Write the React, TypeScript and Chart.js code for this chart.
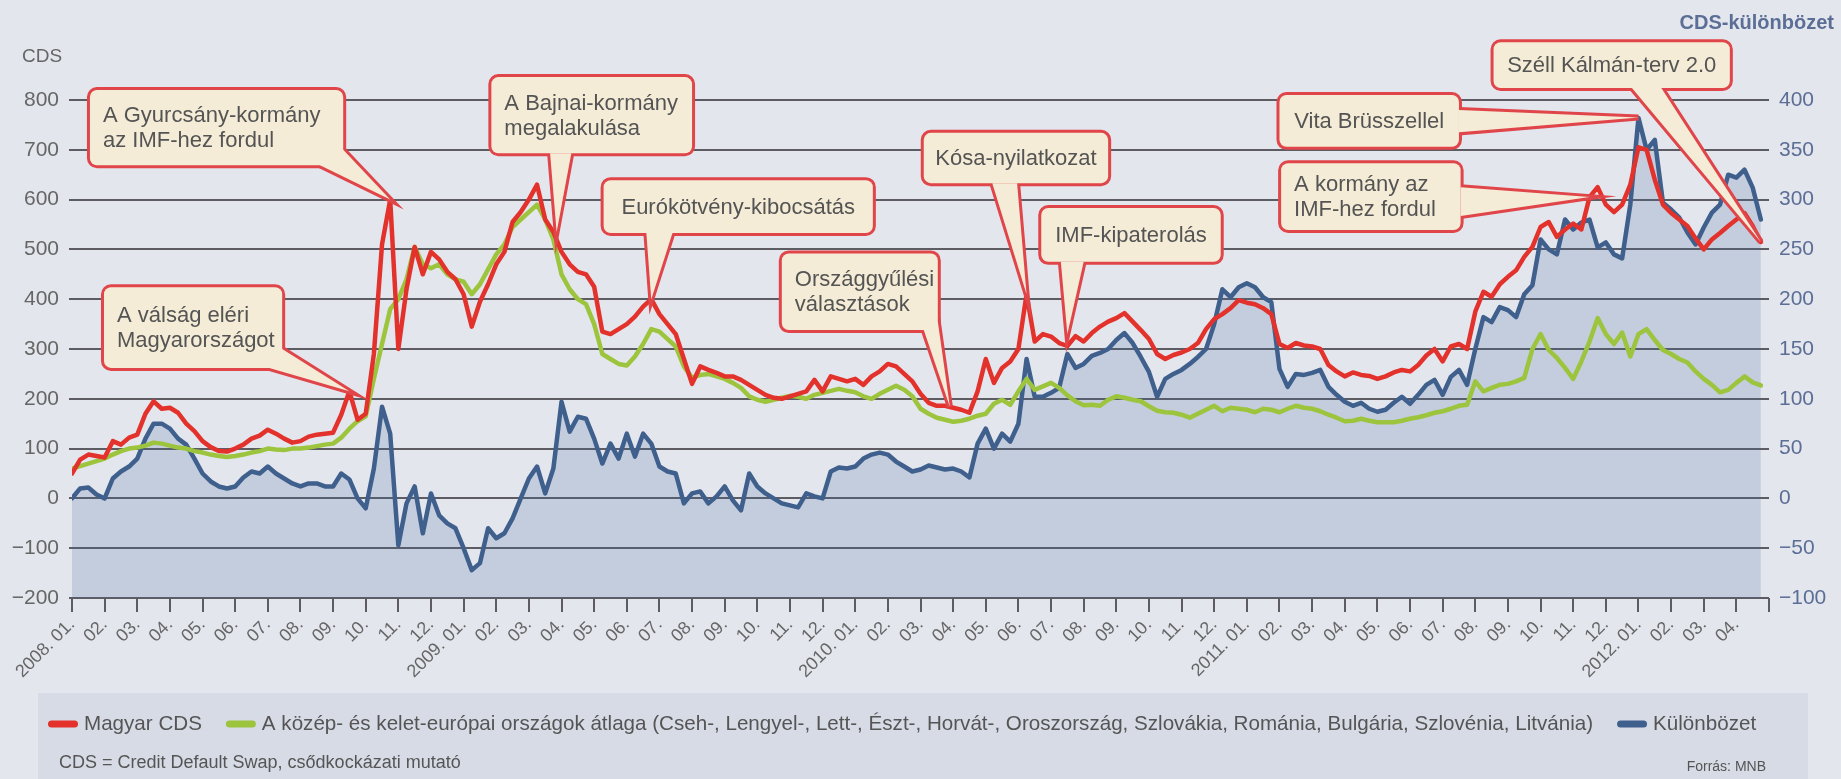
import React, { useEffect, useRef } from "react";
import { Chart, registerables } from "chart.js";

Chart.register(...registerables);

// 4 samples per month (roughly weekly), starting 2008. 01. 01.
const SAMPLES_PER_MONTH = 4;

const monthTickLabels = [
  "2008. 01.", "02.", "03.", "04.", "05.", "06.", "07.", "08.", "09.", "10.", "11.", "12.",
  "2009. 01.", "02.", "03.", "04.", "05.", "06.", "07.", "08.", "09.", "10.", "11.", "12.",
  "2010. 01.", "02.", "03.", "04.", "05.", "06.", "07.", "08.", "09.", "10.", "11.", "12.",
  "2011. 01.", "02.", "03.", "04.", "05.", "06.", "07.", "08.", "09.", "10.", "11.", "12.",
  "2012. 01.", "02.", "03.", "04.", "",
];

// Magyar CDS (bázispont, bal tengely)
const magyarCDS = [
  50, 78, 88, 85, 82, 115, 108, 122, 128, 170, 195, 180, 182, 172, 150, 135,
  115, 103, 95, 94, 100, 108, 120, 126, 138, 130, 120, 112, 115, 124, 128, 130,
  132, 168, 215, 158, 170, 290, 510, 600, 300, 420, 505, 450, 495, 480, 455, 440,
  410, 345, 395, 430, 470, 495, 555, 575, 600, 630, 560, 535, 495, 470, 455, 450,
  425, 335, 330, 340, 350, 365, 385, 400, 370, 350, 330, 280, 230, 265, 258, 252,
  245, 245, 238, 228, 218, 208, 202, 200, 205, 210, 215, 238, 215, 245, 240, 235,
  240, 228, 245, 255, 270, 265, 250, 235, 210, 192, 186, 186, 182, 178, 172, 215,
  280, 232, 262, 275, 300, 410, 315, 330, 325, 312, 306, 326, 315, 332, 345, 355,
  362, 372, 355, 338, 320, 290, 280, 288, 293, 300, 312, 340, 360, 370, 382, 398,
  393, 390, 382, 370, 310, 302, 312, 307, 305, 300, 268, 255, 245, 253, 248, 246,
  240, 245, 253, 258, 255, 268, 287, 300, 275, 305, 310, 300, 375, 415, 405, 430,
  445, 458, 485, 505, 545, 555, 525, 540, 552, 540, 605, 625, 590, 575, 590, 630,
  705, 700, 640, 590, 573, 560, 547, 522, 500, 520, 533, 547, 560, 573, 547, 515,
];

// A közép- és kelet-európai országok átlaga (bal tengely)
const kkeAtlag = [
  60, 65, 70, 75, 80, 88, 95, 100, 102, 106, 112, 110, 106, 102, 100, 95,
  92, 88, 85, 83, 85, 88, 92, 95, 100, 98, 97, 100, 100, 102, 105, 108,
  110, 122, 140, 155, 165, 240, 310, 380, 400, 440, 505, 470, 462, 470, 450, 440,
  435, 410, 430, 460, 490, 510, 545, 560, 575, 590, 560, 520, 450, 420, 400, 390,
  350, 290, 280, 270, 267, 285, 310, 340, 335, 320, 305, 265, 242, 248, 250, 245,
  240, 232, 222, 205, 198, 194, 198, 202, 206, 204, 200, 208, 212, 216, 220, 216,
  213, 205, 200, 210, 218, 226, 218, 205, 180, 170, 162, 158, 154, 156, 160, 166,
  170, 190, 198, 188, 215, 240, 218, 225, 232, 222, 207, 195, 187, 188, 186, 198,
  205, 202, 198, 195, 185, 176, 173, 172, 168, 162, 170, 178, 186, 175, 182, 180,
  178, 173, 180, 178, 173, 180, 186, 182, 180, 175, 168, 162, 155, 156, 160, 156,
  153, 153, 153, 156, 160, 163, 167, 172, 175, 180, 186, 188, 235, 215, 222, 228,
  230, 235, 242, 300, 330, 298, 282, 262, 240, 275, 315, 362, 330, 310, 333, 285,
  330, 340, 318, 298, 290, 280, 273, 255, 240, 228, 213, 218, 232, 245, 233, 227,
];

// Különbözet (jobb tengely)
const kulonbozet = [
  0, 10, 11, 4, 0, 20, 27, 32, 40, 60, 75, 75, 70, 60, 54, 40,
  25, 17, 12, 10, 12, 21, 27, 25, 32, 25, 20, 15, 12, 15, 15, 12,
  12, 25, 19, 0, -10, 30, 92, 65, -47, -5, 12, -35, 5, -17, -25, -30,
  -50, -72, -65, -30, -40, -35, -20, 0, 20, 32, 5, 30, 97, 67, 82, 80,
  60, 35, 55, 40, 65, 42, 65, 55, 32, 27, 25, -5, 5, 7, -5, 2,
  12, -2, -12, 25, 12, 5, 0, -5, -7, -9, 5, 2, 0, 27, 31, 30,
  32, 40, 44, 46, 44, 37, 32, 27, 29, 33, 31, 29, 30, 27, 21, 55,
  70, 50, 65, 57, 75, 140, 102, 102, 106, 111, 145, 131, 135, 143, 146, 150,
  159, 166, 156, 142, 127, 102, 120, 125, 129, 135, 142, 150, 175, 210, 202, 212,
  216, 212, 202, 197, 130, 112, 125, 124, 126, 129, 112, 104, 97, 93, 96, 90,
  87, 89, 96, 102, 95, 104, 114, 119, 104, 122, 129, 114, 150, 182, 177, 192,
  189, 182, 205, 214, 260, 250, 245, 280, 270, 277, 280, 252, 257, 245, 241, 295,
  382, 350, 360, 297, 290, 282, 267, 255, 272, 287, 295, 325, 322, 330, 312, 280,
];

// Szövegdobozok: doboz [hónap bal, érték felső, hónap jobb, érték alsó], csúcs a görbén
const callouts = [
  { lines: ["A Gyurcsány-kormány", "az IMF-hez fordul"], box: [0.55, 820, 8.31, 669], base: [[7.6, 669], [8.31, 700]], tip: [9.75, 600] },
  { lines: ["A válság eléri", "Magyarországot"], box: [0.98, 424, 6.44, 262], base: [[6.44, 300], [6.05, 262]], tip: [8.5, 215] },
  { lines: ["A Bajnai-kormány", "megalakulása"], box: [12.85, 846, 19.0, 693], base: [[14.65, 693], [15.3, 693]], tip: [14.85, 535] },
  { lines: ["Eurókötvény-kibocsátás"], box: [16.29, 639, 24.54, 533], base: [[17.6, 533], [18.4, 533]], tip: [17.75, 400] },
  { lines: ["Országgyűlési", "választások"], box: [21.75, 492, 26.53, 338], base: [[26.1, 338], [26.53, 355]], tip: [26.9, 184] },
  { lines: ["Kósa-nyilatkozat"], box: [26.1, 734, 31.75, 633], base: [[28.2, 633], [28.96, 633]], tip: [29.25, 410] },
  { lines: ["IMF-kipaterolás"], box: [29.7, 583, 35.2, 475], base: [[30.3, 475], [31.0, 475]], tip: [30.5, 330] },
  { lines: ["Vita Brüsszellel"], box: [37.0, 810, 42.5, 706], base: [[42.5, 780], [42.5, 735]], tip: [48.0, 765] },
  { lines: ["A kormány az", "IMF-hez fordul"], box: [37.05, 673, 42.55, 539], base: [[42.55, 625], [42.55, 567]], tip: [46.5, 605] },
  { lines: ["Széll Kálmán-terv 2.0"], box: [43.56, 916, 50.8, 824], base: [[47.8, 824], [48.7, 824]], tip: [51.75, 515] },
];

const FONT = "'Liberation Sans', Arial, sans-serif";
const BG = "#e4e6ee";
const BAND = "#d7dbe6";
const GRID = "#5c5c62";
const TICK = "#666666";
const RED = "#e3312b";
const GREEN = "#9cc43c";
const BLUE = "#3f5f8c";
const BLUE_LABEL = "#5b6e95";
const FILL = "rgba(70,105,160,0.2)";
const CALLOUT_FILL = "#f4ecd6";
const CALLOUT_BORDER = "#e0454a";
const CALLOUT_TEXT = "#545454";

const toPoints = (arr: number[]) => arr.map((v, i) => ({ x: i / SAMPLES_PER_MONTH, y: v }));

function roundRect(ctx: CanvasRenderingContext2D, x: number, y: number, w: number, h: number, r: number) {
  ctx.beginPath();
  ctx.moveTo(x + r, y);
  ctx.arcTo(x + w, y, x + w, y + h, r);
  ctx.arcTo(x + w, y + h, x, y + h, r);
  ctx.arcTo(x, y + h, x, y, r);
  ctx.arcTo(x, y, x + w, y, r);
  ctx.closePath();
}

const backgroundPlugin = {
  id: "bgBand",
  beforeDraw(chart: any) {
    const { ctx, width, height } = chart;
    const xs = chart.scales.x;
    ctx.save();
    ctx.fillStyle = BG;
    ctx.fillRect(0, 0, width, height);
    ctx.fillStyle = BAND;
    ctx.fillRect(38, xs.bottom, 1770, height - xs.bottom);
    ctx.restore();
  },
};

const overlayPlugin = {
  id: "overlay",
  afterDraw(chart: any) {
    const { ctx, chartArea } = chart;
    const xs = chart.scales.x;
    const ys = chart.scales.y;
    const X = (m: number) => xs.getPixelForValue(m);
    const Y = (v: number) => ys.getPixelForValue(v);
    ctx.save();

    // axis titles
    ctx.textBaseline = "middle";
    ctx.fillStyle = TICK;
    ctx.font = `19px ${FONT}`;
    ctx.textAlign = "left";
    ctx.fillText("CDS", 22, chartArea.top - 43);
    ctx.fillStyle = BLUE_LABEL;
    ctx.font = `bold 20px ${FONT}`;
    ctx.textAlign = "right";
    ctx.fillText("CDS-különbözet", chart.width - 7, 23);

    // callouts
    for (const a of callouts) {
      const x0 = X(a.box[0]), y0 = Y(a.box[1]), x1 = X(a.box[2]), y1 = Y(a.box[3]);
      const b1x = X(a.base[0][0]), b1y = Y(a.base[0][1]);
      const b2x = X(a.base[1][0]), b2y = Y(a.base[1][1]);
      const tx = X(a.tip[0]), ty = Y(a.tip[1]);
      const tail = () => {
        ctx.beginPath();
        ctx.moveTo(b1x, b1y);
        ctx.lineTo(tx, ty);
        ctx.lineTo(b2x, b2y);
        ctx.closePath();
      };
      ctx.lineJoin = "miter";
      ctx.strokeStyle = CALLOUT_BORDER;
      ctx.lineWidth = 6;
      roundRect(ctx, x0, y0, x1 - x0, y1 - y0, 7);
      ctx.stroke();
      tail();
      ctx.stroke();
      ctx.fillStyle = CALLOUT_FILL;
      roundRect(ctx, x0, y0, x1 - x0, y1 - y0, 7);
      ctx.fill();
      tail();
      ctx.fill();

      ctx.fillStyle = CALLOUT_TEXT;
      ctx.font = `22px ${FONT}`;
      ctx.textBaseline = "middle";
      const lh = 25;
      const cy = (y0 + y1) / 2 - ((a.lines.length - 1) * lh) / 2 + 1;
      a.lines.forEach((t, i) => {
        if (a.lines.length === 1) {
          ctx.textAlign = "center";
          ctx.fillText(t, (x0 + x1) / 2, cy);
        } else {
          ctx.textAlign = "left";
          ctx.fillText(t, x0 + 13, cy + i * lh);
        }
      });
    }

    // legend
    const rowY = xs.bottom + 31;
    let x = 48;
    ctx.font = `20.6px ${FONT}`;
    ctx.textBaseline = "middle";
    ctx.textAlign = "left";
    chart.data.datasets.forEach((ds: any) => {
      ctx.fillStyle = ds.borderColor;
      roundRect(ctx, x, rowY - 3.5, 30, 7, 3.5);
      ctx.fill();
      x += 36;
      ctx.fillStyle = "#555555";
      ctx.fillText(ds.label, x, rowY);
      x += ctx.measureText(ds.label).width + 24;
    });
    ctx.fillStyle = "#555555";
    ctx.font = `18px ${FONT}`;
    ctx.fillText("CDS = Credit Default Swap, csődkockázati mutató", 59, rowY + 39);
    ctx.font = `14px ${FONT}`;
    ctx.textAlign = "right";
    ctx.fillText("Forrás: MNB", 1766, rowY + 43);
    ctx.restore();
  },
};

export default function App() {
  const canvasRef = useRef<HTMLCanvasElement | null>(null);

  useEffect(() => {
    document.body.style.margin = "0";
    document.body.style.background = BG;
    const canvas = canvasRef.current;
    if (!canvas) return;
    const common = { pointRadius: 0, borderWidth: 4.5, borderJoinStyle: "round", borderCapStyle: "round" };
    const chart = new Chart(canvas, {
      type: "line",
      data: {
        datasets: [
          { ...common, label: "Magyar CDS", data: toPoints(magyarCDS), borderColor: RED, yAxisID: "y", order: 0 },
          {
            ...common,
            label:
              "A közép- és kelet-európai országok átlaga (Cseh-, Lengyel-, Lett-, Észt-, Horvát-, Oroszország, Szlovákia, Románia, Bulgária, Szlovénia, Litvánia)",
            data: toPoints(kkeAtlag),
            borderColor: GREEN,
            yAxisID: "y",
            order: 1,
          },
          {
            ...common,
            label: "Különbözet",
            data: toPoints(kulonbozet),
            borderColor: BLUE,
            backgroundColor: FILL,
            fill: "start",
            yAxisID: "y2",
            order: 2,
          },
        ],
      },
      options: {
        animation: false,
        responsive: false,
        devicePixelRatio: 1,
        layout: { padding: { top: 100, bottom: 86, left: 0, right: 0 } },
        plugins: { legend: { display: false }, tooltip: { enabled: false } },
        scales: {
          x: {
            type: "linear",
            min: 0,
            max: 52,
            afterBuildTicks: (s: any) => {
              s.ticks = monthTickLabels.map((_, i) => ({ value: i }));
            },
            afterFit: (s: any) => {
              s.height = 95;
            },
            ticks: {
              autoSkip: false,
              minRotation: 45,
              maxRotation: 45,
              padding: 2,
              color: TICK,
              font: { family: FONT, size: 18 },
              callback: (_v: any, i: number) => monthTickLabels[i] ?? "",
            },
            grid: { drawOnChartArea: false, drawTicks: true, tickLength: 14, color: GRID, lineWidth: 2 },
            border: { display: false },
          },
          y: {
            position: "left",
            min: -200,
            max: 800,
            afterFit: (s: any) => {
              s.width = 72;
            },
            ticks: {
              stepSize: 100,
              padding: 10,
              color: TICK,
              font: { family: FONT, size: 21 },
              callback: (v: any) => String(v).replace("-", "\u2212"),
            },
            grid: { color: GRID, lineWidth: 2, tickLength: 3 },
            border: { display: false },
          },
          y2: {
            position: "right",
            min: -100,
            max: 400,
            afterFit: (s: any) => {
              s.width = 72;
            },
            ticks: {
              stepSize: 50,
              padding: 10,
              color: BLUE_LABEL,
              font: { family: FONT, size: 21 },
              callback: (v: any) => String(v).replace("-", "\u2212"),
            },
            grid: { drawOnChartArea: false, drawTicks: false },
            border: { display: false },
          },
        },
      },
      plugins: [backgroundPlugin, overlayPlugin],
    } as any);
    return () => chart.destroy();
  }, []);

  return (
    <div style={{ width: 1841, height: 779 }}>
      <canvas ref={canvasRef} width={1841} height={779} />
    </div>
  );
}
